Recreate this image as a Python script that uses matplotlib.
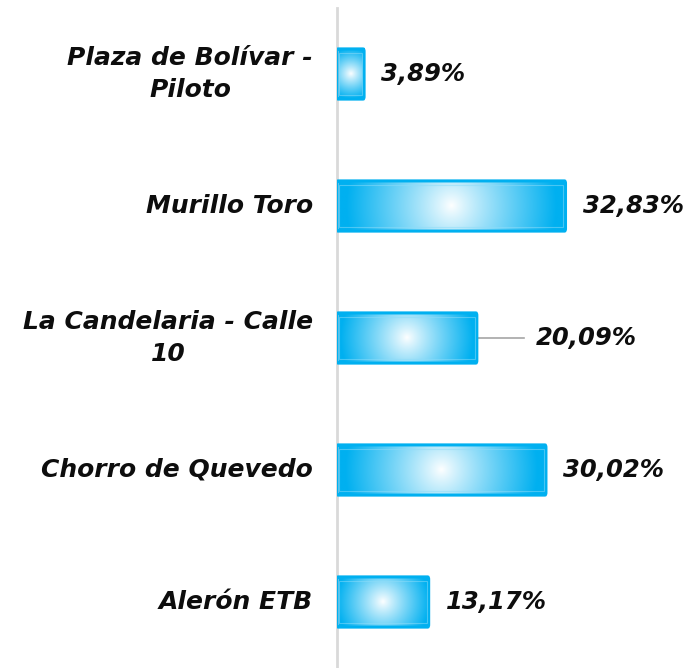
import numpy as np
import matplotlib
matplotlib.use('Agg')
import matplotlib.pyplot as plt
from matplotlib.patches import FancyBboxPatch
from matplotlib.colors import to_rgb

# data
categories = ['Plaza de Bolívar -\nPiloto', 'Murillo Toro', 'La Candelaria - Calle\n10',
              'Chorro de Quevedo', 'Alerón ETB']
values = [3.89, 32.83, 20.09, 30.02, 13.17]
labels = ['3,89%', '32,83%', '20,09%', '30,02%', '13,17%']

BLUE = '#00B0F0'
FONT = dict(family='DejaVu Sans', fontweight='bold', fontstyle='italic', color='#0D0D0D')

fig = plt.figure(figsize=(6.85, 6.68), dpi=100)
ax = fig.add_axes([337 / 685, 0, 1 - 337 / 685, 660 / 668])
ax.set_xlim(0, 50)
ax.set_ylim(4.5, -0.5)

# px per data unit
px_x = ax.get_position().width * 685 / 50
px_y = ax.get_position().height * 668 / 5

blue = np.array(to_rgb(BLUE))
white = np.ones(3)
bar_h = 0.38

for i, v in enumerate(values):
    w_px, h_px = v * px_x, bar_h * px_y
    xs = np.linspace(-w_px / 2, w_px / 2, max(int(w_px), 2))
    ys = np.linspace(-h_px / 2, h_px / 2, int(h_px))
    X, Y = np.meshgrid(xs, ys)
    r = np.hypot(X, Y) / np.hypot(w_px / 2, h_px / 2)
    t = np.clip(r ** 0.9 * 1.1, 0, 1)[..., None]
    img = white * (1 - t) + blue * t
    ax.imshow(img, extent=(0, v, i + bar_h / 2, i - bar_h / 2), aspect='auto',
              interpolation='bilinear', zorder=2)
    ax.add_patch(FancyBboxPatch((0, i - bar_h / 2), v, bar_h,
                                boxstyle='round,pad=0,rounding_size=0.15',
                                fc='none', ec=BLUE, lw=2.2, zorder=3,
                                mutation_aspect=bar_h / 3))
    ax.add_patch(plt.Rectangle((0.3, i - bar_h / 2 + 0.03), v - 0.6, bar_h - 0.06,
                               fc='none', ec='#8FDCF8', lw=0.8, zorder=3, alpha=0.5))

    if i == 2:
        ax.plot([v, v + 6.8], [i, i], color='#A6A6A6', lw=1.2, zorder=1)
        ax.text(v + 8.5, i, labels[i], ha='left', va='center', fontsize=17.5, **FONT)
    else:
        ax.text(v + 2.5, i, labels[i], ha='left', va='center', fontsize=17.5, **FONT)

ax.set_yticks(range(len(categories)))
ax.set_yticklabels([])
for i, c in enumerate(categories):
    ax.text(-24 / px_x, i, c, ha='right', va='center', multialignment='center',
            fontsize=18, linespacing=1.4, **FONT)

ax.tick_params(left=False, bottom=False, labelbottom=False)
for s in ['top', 'right', 'bottom']:
    ax.spines[s].set_visible(False)
ax.spines['left'].set_color('#D9D9D9')
ax.spines['left'].set_linewidth(2)

fig.savefig('out.png', dpi=100)
